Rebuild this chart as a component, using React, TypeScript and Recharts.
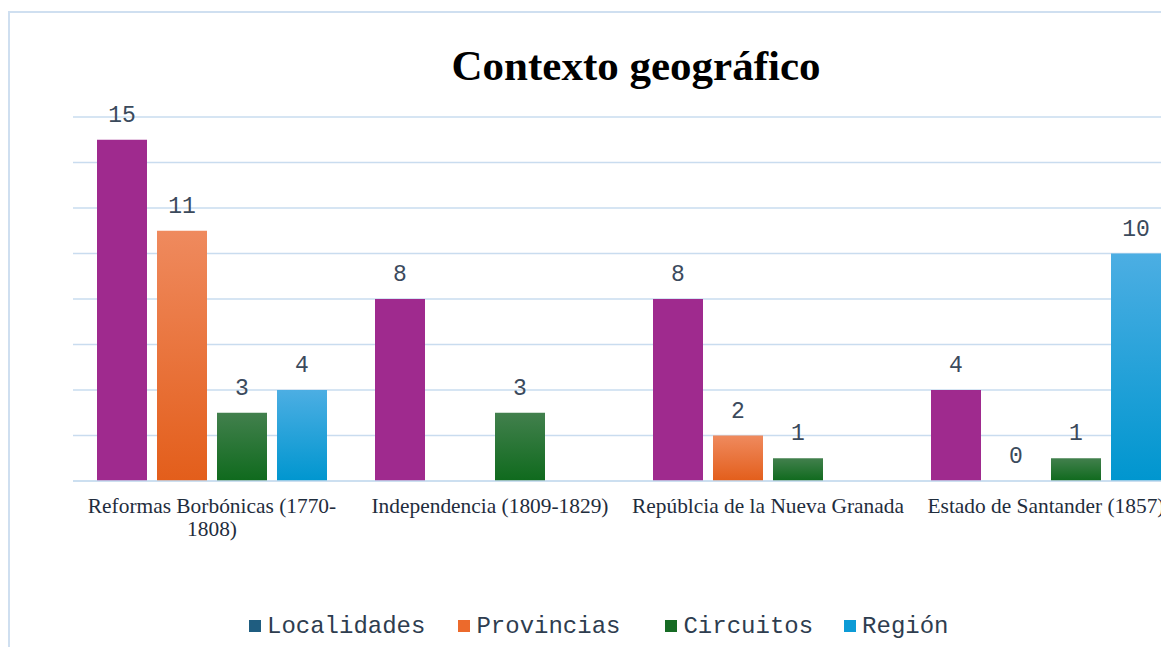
import { BarChart, Bar, XAxis, YAxis, CartesianGrid, Legend } from 'recharts'

const categories = [
  'Reformas Borbónicas (1770-1808)',
  'Independencia (1809-1829)',
  'Repúblcia de la Nueva Granada',
  'Estado de Santander (1857)',
]
const localidades = [15, 8, 8, 4]
const provincias = [11, null, 2, 0]
const circuitos = [3, 3, 1, 1]
const region = [4, null, null, 10]
const yTicks = [0, 2, 4, 6, 8, 10, 12, 14, 16]

const seriesNames = ['Localidades', 'Provincias', 'Circuitos', 'Región']
const legendColors = ['#1f5d80', '#ec6a2c', '#166b24', '#0d9bd6']

const data = categories.map((name, i) => ({
  name,
  localidades: localidades[i],
  provincias: provincias[i],
  circuitos: circuitos[i],
  region: region[i],
}))

const MONO = '"Liberation Mono", "DejaVu Sans Mono", monospace'
const SERIF = '"Liberation Serif", "DejaVu Serif", serif'

// zero bars get a hair of height so their label still renders
const zeroPoint = (v: any) => (v === 0 ? 0.01 : 0)

function ValueLabel(props: any) {
  const { x, y, width, value } = props
  if (value === null || value === undefined) return null
  return (
    <text
      x={Number(x) + Number(width) / 2}
      y={Number(y) - 18}
      textAnchor="middle"
      fontFamily={MONO}
      fontSize={23}
      fill="#3b4a5c"
    >
      {value}
    </text>
  )
}

function CategoryTick(props: any) {
  const { x, y, payload } = props
  const text: string = payload.value
  let lines = [text]
  if (text.length > 30 && text.lastIndexOf('-') > 0) {
    const k = text.lastIndexOf('-') + 1
    lines = [text.slice(0, k), text.slice(k)]
  }
  return (
    <g>
      {lines.map((ln, i) => (
        <text
          key={i}
          x={x}
          y={y + 24 + i * 23}
          textAnchor="middle"
          fontFamily={SERIF}
          fontSize={21.4}
          fill="#1f2d3d"
        >
          {ln}
        </text>
      ))}
    </g>
  )
}

function LegendContent() {
  const gaps = [0, 33, 45, 31]
  return (
    <div style={{ display: 'flex', alignItems: 'center', height: 30, paddingLeft: 241 }}>
      {seriesNames.map((n, i) => (
        <div key={n} style={{ display: 'flex', alignItems: 'center', marginLeft: gaps[i] }}>
          <span style={{ width: 12, height: 12, background: legendColors[i], display: 'inline-block', marginRight: 6 }} />
          <span style={{ fontFamily: MONO, fontSize: 24, color: '#2e3d4f' }}>{n}</span>
        </div>
      ))}
    </div>
  )
}

export default function App() {
  return (
    <div style={{ position: 'relative', width: 1161, height: 639, overflow: 'hidden' }}>
      <div
        style={{
          position: 'absolute',
          left: 0,
          top: 3,
          width: 1400,
          height: 800,
          border: '2px solid #cfdff0',
          boxSizing: 'border-box',
        }}
      />
      <div
        style={{
          position: 'absolute',
          left: 0,
          width: 1256,
          top: 35,
          textAlign: 'center',
          fontFamily: SERIF,
          fontWeight: 'bold',
          fontSize: 43,
          lineHeight: '46px',
          color: '#000',
        }}
      >
        Contexto geográfico
      </div>
      <div style={{ position: 'absolute', left: 0, top: 0 }}>
        <BarChart
          width={1200}
          height={647}
          data={data}
          margin={{ top: 109, right: 23, left: 65, bottom: 84 }}
          barCategoryGap={24}
          barGap={10}
        >
          <defs>
            <linearGradient id="gProv" x1="0" y1="0" x2="0" y2="1">
              <stop offset="0%" stopColor="#ef8a5e" />
              <stop offset="100%" stopColor="#e35e1b" />
            </linearGradient>
            <linearGradient id="gCirc" x1="0" y1="0" x2="0" y2="1">
              <stop offset="0%" stopColor="#42804d" />
              <stop offset="100%" stopColor="#0f6a1d" />
            </linearGradient>
            <linearGradient id="gReg" x1="0" y1="0" x2="0" y2="1">
              <stop offset="0%" stopColor="#4caee3" />
              <stop offset="100%" stopColor="#0096cf" />
            </linearGradient>
          </defs>
          <CartesianGrid vertical={false} stroke="#c9dcef" strokeWidth={1.6} />
          <XAxis
            dataKey="name"
            tickLine={false}
            axisLine={{ stroke: '#c9dcef', strokeWidth: 1.6 }}
            tick={<CategoryTick />}
            height={60}
            interval={0}
          />
          <YAxis hide domain={[0, 16]} ticks={yTicks} />
          <Legend
            verticalAlign="bottom"
            content={<LegendContent />}
            wrapperStyle={{ position: 'absolute', left: 0, top: 603, width: 1200 }}
          />
          <Bar dataKey="localidades" name="Localidades" fill="#9f2a8e" isAnimationActive={false} label={<ValueLabel />} minPointSize={zeroPoint} />
          <Bar dataKey="provincias" name="Provincias" fill="url(#gProv)" isAnimationActive={false} label={<ValueLabel />} minPointSize={zeroPoint} />
          <Bar dataKey="circuitos" name="Circuitos" fill="url(#gCirc)" isAnimationActive={false} label={<ValueLabel />} minPointSize={zeroPoint} />
          <Bar dataKey="region" name="Región" fill="url(#gReg)" isAnimationActive={false} label={<ValueLabel />} minPointSize={zeroPoint} />
        </BarChart>
      </div>
    </div>
  )
}
